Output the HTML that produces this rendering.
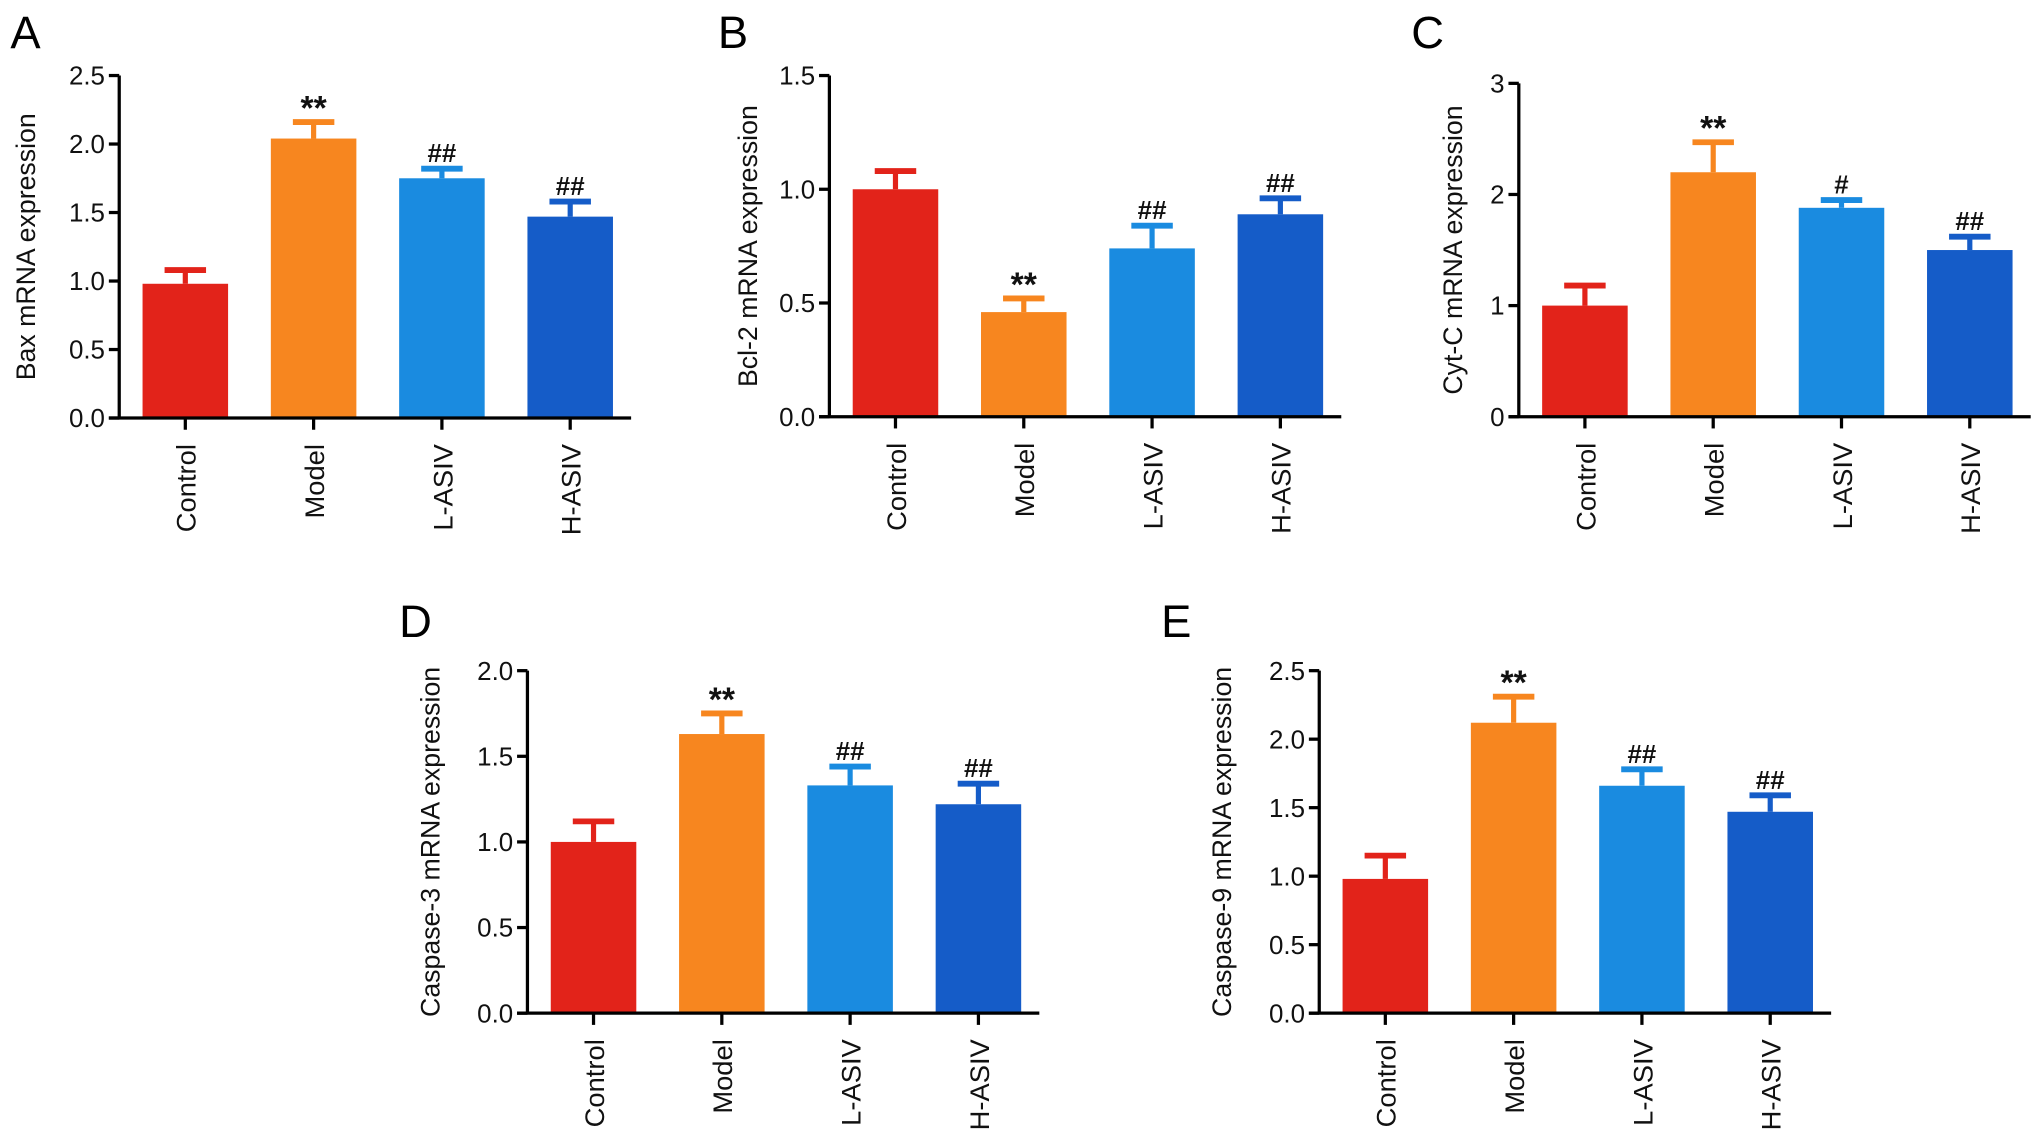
<!DOCTYPE html>
<html><head><meta charset="utf-8"><style>
html,body{margin:0;padding:0;background:#fff;}
svg{display:block;font-family:"Liberation Sans",Arial,sans-serif;}
</style></head><body>
<svg id="fig" width="2032" height="1146" viewBox="0 0 1568 880" preserveAspectRatio="none" xmlns="http://www.w3.org/2000/svg"></svg>
<script>
const categories = ["Control","Model","L-ASIV","H-ASIV"];
const colors = ["#e2231a","#f7861f","#1a8be0","#155cc8"];
const baxValues = [0.98,2.04,1.75,1.47];
const baxErrors = [0.10,0.12,0.07,0.11];
const baxMarks = ["","**","##","##"];
const baxTicks = [0,0.5,1.0,1.5,2.0,2.5];
const bclValues = [1.0,0.46,0.74,0.89];
const bclErrors = [0.08,0.06,0.10,0.07];
const bclMarks = ["","**","##","##"];
const bclTicks = [0,0.5,1.0,1.5];
const cytValues = [1.0,2.2,1.88,1.5];
const cytErrors = [0.18,0.27,0.07,0.12];
const cytMarks = ["","**","#","##"];
const cytTicks = [0,1,2,3];
const cas3Values = [1.0,1.63,1.33,1.22];
const cas3Errors = [0.12,0.12,0.11,0.12];
const cas3Marks = ["","**","##","##"];
const cas3Ticks = [0,0.5,1.0,1.5,2.0];
const cas9Values = [0.98,2.12,1.66,1.47];
const cas9Errors = [0.17,0.19,0.12,0.12];
const cas9Marks = ["","**","##","##"];
const cas9Ticks = [0,0.5,1.0,1.5,2.0,2.5];

const NS="http://www.w3.org/2000/svg";
const svg=document.getElementById('fig');
function mk(tag,attrs,parent){const e=document.createElementNS(NS,tag);for(const k in attrs)e.setAttribute(k,attrs[k]);(parent||svg).appendChild(e);return e;}

function panel(cfg){
  const g=mk('g',{});
  
  
  const ymax=cfg.ticks[cfg.ticks.length-1];
  const y=v=>cfg.y0-(v/ymax)*(cfg.y0-cfg.yTop);
  const step=99, bw=66;
  const cx=i=>cfg.ax+51+i*step;
  const L=mk('text',{x:cfg.lx,y:cfg.ly,'font-size':35,fill:'#000'},g);L.textContent=cfg.letter;
  
  
  cfg.values.forEach((v,i)=>{
    const c=colors[i];
    const e=cfg.errors[i];
    const el=mk('line',{x1:cx(i),x2:cx(i),y1:y(v),y2:y(v+e),stroke:c,'stroke-width':4},g);
    
    
    const cap=mk('line',{x1:cx(i)-16,x2:cx(i)+16,y1:y(v+e),y2:y(v+e),stroke:c,'stroke-width':4.5},g);
    
    
    const r=mk('rect',{x:cx(i)-bw/2,y:y(v),width:bw,height:cfg.y0-y(v),fill:c},g);
    
    
    if(cfg.marks[i]){
      const star=cfg.marks[i]=='**';
      const t=mk('text',{x:cx(i),y:y(v+e)-(star?2:5),'font-size':star?26:20,'font-weight':'bold','text-anchor':'middle',fill:'#111'},g);
      t.textContent=cfg.marks[i];
      
      
    }
    const tk=mk('line',{x1:cx(i),x2:cx(i),y1:cfg.y0,y2:cfg.y0+9,stroke:'#000','stroke-width':2.5},g);
    
    
    const cl=mk('text',{transform:`translate(${cx(i)+8},${cfg.y0+20}) rotate(-90)`,'font-size':21,'text-anchor':'end',fill:'#111'},g);
    cl.textContent=categories[i];
    
    
  });
  const ya=mk('line',{x1:cfg.ax,x2:cfg.ax,y1:cfg.yTop,y2:cfg.y0+1,stroke:'#000','stroke-width':2.5},g);
  
  
  const xa=mk('line',{x1:cfg.ax-8,x2:cfg.ax+395,y1:cfg.y0,y2:cfg.y0,stroke:'#000','stroke-width':2.5},g);
  
  
  cfg.ticks.forEach(t=>{
    const l=mk('line',{x1:cfg.ax-8,x2:cfg.ax,y1:y(t),y2:y(t),stroke:'#000','stroke-width':2.5},g);
    
    
    const tx=mk('text',{x:cfg.ax-11,y:y(t)+7,'font-size':20,'text-anchor':'end',fill:'#111'},g);
    tx.textContent=cfg.fmt?t.toFixed(1):String(t);
    
    
  });
  const yt=mk('text',{transform:`translate(${cfg.ytx},${(cfg.yTop+cfg.y0)/2}) rotate(-90)`,'font-size':20.5,'text-anchor':'middle',fill:'#111'},g);
  yt.textContent=cfg.title;
  
  
}
panel({letter:'A',lx:8,ly:37,ax:92,yTop:58,y0:321,ticks:baxTicks,values:baxValues,errors:baxErrors,marks:baxMarks,fmt:true,ytx:27,title:'Bax mRNA expression'});
panel({letter:'B',lx:554,ly:37,ax:640,yTop:58,y0:320,ticks:bclTicks,values:bclValues,errors:bclErrors,marks:bclMarks,fmt:true,ytx:584,title:'Bcl-2 mRNA expression'});
panel({letter:'C',lx:1089,ly:37,ax:1172,yTop:64,y0:320,ticks:cytTicks,values:cytValues,errors:cytErrors,marks:cytMarks,fmt:false,ytx:1128,title:'Cyt-C mRNA expression'});
panel({letter:'D',lx:308,ly:489,ax:407,yTop:515,y0:778,ticks:cas3Ticks,values:cas3Values,errors:cas3Errors,marks:cas3Marks,fmt:true,ytx:339,title:'Caspase-3 mRNA expression'});
panel({letter:'E',lx:896,ly:489,ax:1018,yTop:515,y0:778,ticks:cas9Ticks,values:cas9Values,errors:cas9Errors,marks:cas9Marks,fmt:true,ytx:950,title:'Caspase-9 mRNA expression'});
</script>
</body></html>
